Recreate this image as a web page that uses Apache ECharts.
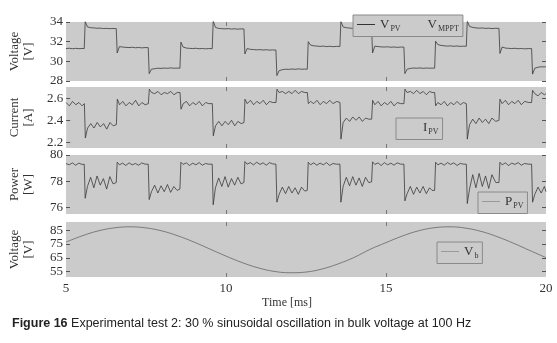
<!DOCTYPE html>
<html>
<head>
<meta charset="utf-8">
<title>Figure 16</title>
<script src="https://cdn.jsdelivr.net/npm/echarts@6/dist/echarts.min.js"></script>
<style>
html,body{margin:0;padding:0;background:#fff;}
#chart{width:557px;height:343px;}
</style>
</head>
<body>
<div id="chart"></div>
<script>
// 采样时间 (ms), V/I/P 三条曲线共用
var timeMs = [5.00,5.10,5.20,5.30,5.40,5.50,
	5.57,5.60,5.67,5.77,5.87,5.97,6.07,6.17,6.27,6.37,6.47,
	6.57,6.60,6.67,6.77,6.87,6.97,7.07,7.17,7.27,7.37,7.47,
	7.57,7.60,7.67,7.77,7.87,7.97,8.07,8.17,8.27,8.37,8.47,
	8.56,8.59,8.66,8.76,8.86,8.96,9.06,9.16,9.26,9.36,9.46,
	9.57,9.60,9.67,9.77,9.87,9.97,10.07,10.17,10.27,10.37,10.47,
	10.56,10.59,10.66,10.76,10.86,10.96,11.06,11.16,11.26,11.36,11.46,
	11.56,11.59,11.66,11.76,11.86,11.96,12.06,12.16,12.26,12.36,12.46,
	12.54,12.57,12.64,12.74,12.84,12.94,13.04,13.14,13.24,13.34,13.46,
	13.56,13.59,13.66,13.76,13.86,13.96,14.06,14.16,14.26,14.36,14.46,
	14.55,14.58,14.65,14.75,14.85,14.95,15.05,15.15,15.25,15.35,15.46,
	15.56,15.59,15.66,15.76,15.86,15.96,16.06,16.16,16.26,16.36,16.44,
	16.52,16.55,16.62,16.72,16.82,16.92,17.02,17.12,17.22,17.32,17.42,
	17.51,17.54,17.61,17.71,17.81,17.91,18.01,18.11,18.21,18.31,18.43,
	18.53,18.56,18.63,18.73,18.83,18.93,19.03,19.13,19.23,19.33,19.46,
	19.55,19.58,19.65,19.75,19.85,19.95,20.00];

var vPv = [31.30,31.33,31.28,31.32,31.29,31.31,
	31.30,34.05,33.50,33.42,33.40,33.36,33.38,33.33,33.35,33.32,33.34,
	33.33,30.85,31.50,31.45,31.42,31.40,31.43,31.38,31.41,31.37,31.40,
	31.39,28.75,29.20,29.25,29.30,29.28,29.32,29.29,29.33,29.30,29.31,
	29.30,31.95,31.45,31.35,31.32,31.30,31.33,31.28,31.31,31.27,31.30,
	31.29,34.10,33.45,33.35,33.32,33.30,33.33,33.28,33.31,33.27,33.30,
	33.29,30.75,31.30,31.22,31.20,31.17,31.19,31.15,31.18,31.14,31.16,
	31.15,28.55,29.05,29.15,29.20,29.18,29.22,29.19,29.23,29.20,29.21,
	29.20,32.00,31.65,31.58,31.55,31.52,31.55,31.50,31.53,31.49,31.52,
	31.51,34.05,33.50,33.42,33.38,33.36,33.38,33.34,33.36,33.33,33.35,
	33.34,30.85,31.55,31.50,31.47,31.45,31.48,31.43,31.46,31.42,31.45,
	31.44,28.75,29.20,29.28,29.32,29.30,29.33,29.29,29.32,29.30,29.31,
	29.30,32.05,31.70,31.62,31.58,31.55,31.57,31.53,31.56,31.52,31.54,
	31.53,34.10,33.55,33.45,33.40,33.37,33.39,33.35,33.37,33.33,33.36,
	33.35,30.80,31.45,31.35,31.32,31.30,31.33,31.28,31.31,31.27,31.30,
	31.29,28.70,29.30,29.40,29.45,29.43,29.46];

var iPv = [2.56,2.53,2.57,2.54,2.56,2.53,
	2.55,2.24,2.33,2.37,2.33,2.38,2.34,2.37,2.32,2.38,2.35,
	2.36,2.59,2.54,2.57,2.53,2.56,2.54,2.58,2.53,2.56,2.54,
	2.55,2.68,2.65,2.64,2.66,2.63,2.65,2.64,2.66,2.63,2.65,
	2.65,2.50,2.55,2.57,2.53,2.56,2.54,2.57,2.53,2.56,2.55,
	2.55,2.26,2.35,2.39,2.35,2.39,2.36,2.40,2.35,2.39,2.37,
	2.38,2.59,2.55,2.58,2.54,2.57,2.55,2.58,2.54,2.57,2.56,
	2.56,2.68,2.65,2.66,2.64,2.66,2.64,2.67,2.64,2.66,2.65,
	2.65,2.55,2.57,2.55,2.58,2.54,2.57,2.55,2.58,2.55,2.57,
	2.56,2.23,2.38,2.42,2.39,2.43,2.40,2.43,2.39,2.42,2.41,
	2.41,2.58,2.54,2.57,2.53,2.56,2.54,2.57,2.53,2.56,2.55,
	2.55,2.68,2.65,2.66,2.64,2.67,2.64,2.66,2.63,2.66,2.65,
	2.65,2.53,2.56,2.54,2.57,2.53,2.56,2.54,2.57,2.54,2.56,
	2.55,2.23,2.36,2.41,2.37,2.42,2.38,2.41,2.37,2.42,2.39,
	2.40,2.59,2.55,2.58,2.54,2.57,2.55,2.58,2.54,2.57,2.56,
	2.56,2.67,2.64,2.62,2.65,2.63,2.64];

var pPv = [79.35,79.25,79.40,79.22,79.38,79.28,
	79.30,76.70,77.60,78.30,77.50,78.40,77.70,78.20,77.40,78.35,77.80,
	77.90,79.45,79.25,79.38,79.20,79.40,79.25,79.35,79.22,79.40,79.30,
	79.30,76.60,77.20,77.70,77.10,77.65,77.20,77.75,77.15,77.60,77.30,
	77.40,79.45,79.28,79.40,79.20,79.38,79.25,79.42,79.22,79.35,79.30,
	79.30,76.20,77.50,78.25,77.60,78.35,77.55,78.20,77.70,78.30,77.80,
	77.90,79.50,79.30,79.42,79.25,79.45,79.28,79.40,79.22,79.42,79.32,
	79.30,76.40,77.00,77.55,77.05,77.60,77.10,77.50,77.00,77.55,77.25,
	77.30,79.45,79.25,79.40,79.22,79.38,79.25,79.42,79.20,79.35,79.30,
	79.30,76.40,77.60,78.30,77.65,78.35,77.70,78.25,77.60,78.30,77.90,
	77.95,79.48,79.28,79.40,79.20,79.42,79.25,79.38,79.22,79.40,79.30,
	79.30,76.50,77.05,77.60,77.00,77.55,77.10,77.60,77.05,77.50,77.30,
	77.30,79.45,79.25,79.38,79.22,79.42,79.28,79.40,79.20,79.36,79.30,
	79.30,76.30,77.40,78.50,77.50,78.60,77.60,78.40,77.45,78.50,77.90,
	77.90,79.45,79.25,79.40,79.20,79.38,79.28,79.42,79.22,79.35,79.30,
	79.30,76.40,77.00,77.55,77.10,77.60,77.20];

// 母线电压 (100 Hz)
var vbTime = [5.0,5.5,6.0,6.5,7.0,7.5,8.0,8.5,9.0,9.5,10.0,10.5,11.0,11.5,12.0,12.5,
	13.0,13.5,14.0,14.5,15.0,15.5,16.0,16.5,17.0,17.5,18.0,18.5,19.0,19.5,20.0];
var vb = [76.4,80.9,84.5,86.7,87.5,86.7,84.5,80.9,76.4,71.3,66.2,61.5,57.7,55.1,54.1,54.6,
	56.8,60.5,65.2,71.1,76.0,80.7,84.5,86.8,87.5,86.5,84.0,80.1,75.4,70.2,65.1];

// 刻度
var timeTicks = [5, 10, 15, 20];
var innerTimeTicks = [10, 15];
var voltTicks = [28, 30, 32, 34];
var currTicks = [2.2, 2.4, 2.6];
var powTicks = [76, 78, 80];
var vbTicks = [55, 65, 75, 85];

var SERIF = '"Liberation Serif","DejaVu Serif",serif';
var SANS = '"Liberation Sans",Arial,sans-serif';
var PANEL_BG = '#cbcbcb';

var legendLabel = {
	'V_PV': '{m|V}{s|PV}',
	'V_MPPT': '{m|V}{s|MPPT}',
	'I_PV': '{m|I}{s|PV}',
	'P_PV': '{m|P}{s|PV}',
	'V_b': '{m|V}{s|b}'
};

function pairs(t, v) {
	return t.map(function(x, i) { return [x, v[i]]; });
}

/**
 * 左侧y轴
 */
function leftAxis(idx, min, max, ticks, name) {
	return {
		type: 'value', gridIndex: idx, min: min, max: max, position: 'left',
		name: name, nameLocation: 'middle', nameRotate: 90, nameGap: 30,
		nameTextStyle: {fontFamily: SERIF, fontSize: 13, color: '#333', lineHeight: 14},
		axisLine: {show: false},
		axisTick: {show: true, inside: true, length: 4, customValues: ticks, lineStyle: {color: '#555'}},
		axisLabel: {customValues: ticks, fontFamily: SERIF, fontSize: 13, color: '#333', margin: 3},
		splitLine: {show: false}
	};
}

/**
 * 右侧只有刻度
 */
function rightAxis(idx, min, max, ticks) {
	return {
		type: 'value', gridIndex: idx, min: min, max: max, position: 'right',
		axisLine: {show: false},
		axisTick: {show: true, inside: true, length: 4, customValues: ticks, lineStyle: {color: '#555'}},
		axisLabel: {show: false},
		splitLine: {show: false}
	};
}

function timeAxis(idx, pos, withLabel) {
	var ax = {
		type: 'value', gridIndex: idx, min: 5, max: 20, position: pos,
		axisLine: {show: false},
		axisTick: {show: true, inside: true, length: 4, customValues: innerTimeTicks, lineStyle: {color: '#777'}},
		axisLabel: {show: false},
		splitLine: {show: false}
	};
	if (withLabel) {
		ax.axisLabel = {show: true, customValues: timeTicks, fontFamily: SERIF, fontSize: 13, color: '#333', margin: 5};
		ax.name = 'Time [ms]';
		ax.nameLocation = 'middle';
		ax.nameGap = 20;
		// 名称略偏左
		ax.nameTextStyle = {fontFamily: SERIF, fontSize: 12, color: '#333', padding: [0, 38, 0, 0]};
	}
	return ax;
}

function makeLegend(left, top, items, gap) {
	return {
		left: left, top: top, orient: 'horizontal',
		backgroundColor: PANEL_BG, borderColor: '#8a8a8a', borderWidth: 1,
		padding: [3, 4, 4, 4], itemGap: gap || 10,
		icon: 'rect', itemWidth: 18, itemHeight: 1,
		selectedMode: false,
		data: items,
		formatter: function(name) { return legendLabel[name]; },
		textStyle: {
			fontFamily: SERIF, fontSize: 13, color: '#333',
			rich: {
				m: {fontFamily: SERIF, fontSize: 13, color: '#333'},
				s: {fontFamily: SERIF, fontSize: 8, color: '#333', padding: [8, 0, 0, 1]}
			}
		}
	};
}

function lineSeries(name, idx, data, color) {
	return {
		name: name, type: 'line', xAxisIndex: idx, yAxisIndex: idx,
		data: data, symbol: 'none', animation: false,
		lineStyle: {color: color, width: 0.8}, itemStyle: {color: color}
	};
}

var chart = echarts.init(document.getElementById('chart'));

var grids = [
	{left: 58, right: 11, top: 22, height: 59},
	{left: 58, right: 11, top: 87, height: 61},
	{left: 58, right: 11, top: 155, height: 59},
	{left: 58, right: 11, top: 222, height: 55}
];
grids.forEach(function(g) {
	g.show = true;
	g.backgroundColor = PANEL_BG;
	g.borderWidth = 0;
});

var vbSeries = lineSeries('V_b', 3, pairs(vbTime, vb), '#666');
vbSeries.smooth = 0.4;

var option = {
	animation: false,
	backgroundColor: '#fff',
	title: {
		text: '{b|Figure 16} Experimental test 2: 30 % sinusoidal oscillation in bulk voltage at 100 Hz',
		left: 7, top: 312,
		textStyle: {
			fontFamily: SANS, fontSize: 12.5, fontWeight: 'normal', color: '#222',
			rich: {b: {fontFamily: SANS, fontSize: 12.5, fontWeight: 'bold', color: '#222'}}
		}
	},
	grid: grids,
	xAxis: [
		timeAxis(0, 'bottom'), timeAxis(1, 'bottom'), timeAxis(2, 'bottom'), timeAxis(3, 'bottom', true),
		timeAxis(0, 'top'), timeAxis(1, 'top'), timeAxis(2, 'top'), timeAxis(3, 'top')
	],
	yAxis: [
		leftAxis(0, 28, 34, voltTicks, 'Voltage\n[V]'),
		leftAxis(1, 2.15, 2.7, currTicks, 'Current\n[A]'),
		leftAxis(2, 75.5, 80, powTicks, 'Power\n[W]'),
		leftAxis(3, 51, 91, vbTicks, 'Voltage\n[V]'),
		rightAxis(0, 28, 34, voltTicks),
		rightAxis(1, 2.15, 2.7, currTicks),
		rightAxis(2, 75.5, 80, powTicks),
		rightAxis(3, 51, 91, vbTicks)
	],
	legend: [
		makeLegend(353, 15, [{name: 'V_PV', itemStyle: {color: '#333'}}, {name: 'V_MPPT', itemStyle: {color: PANEL_BG}}], 4),
		makeLegend(396, 118, [{name: 'I_PV', itemStyle: {color: PANEL_BG}}]),
		makeLegend(478, 192, [{name: 'P_PV', itemStyle: {color: '#999'}}]),
		makeLegend(437, 242, [{name: 'V_b', itemStyle: {color: '#999'}}])
	],
	series: [
		lineSeries('V_PV', 0, pairs(timeMs, vPv), '#3a3a3a'),
		lineSeries('V_MPPT', 0, [], PANEL_BG),
		lineSeries('I_PV', 1, pairs(timeMs, iPv), '#3a3a3a'),
		lineSeries('P_PV', 2, pairs(timeMs, pPv), '#3a3a3a'),
		vbSeries
	]
};

chart.setOption(option);
</script>
</body>
</html>
